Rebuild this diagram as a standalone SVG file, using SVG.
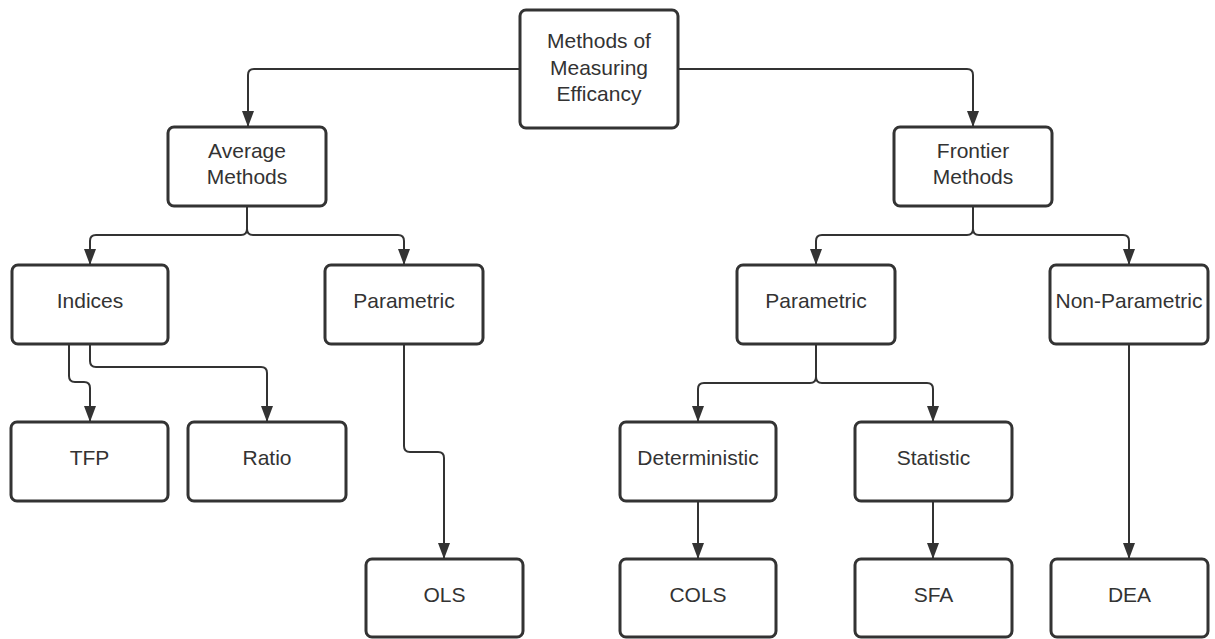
<svg xmlns="http://www.w3.org/2000/svg" width="1215" height="639" viewBox="0 0 1215 639">
<style>
.box{fill:#fff;stroke:#333;stroke-width:3}
.lbl{font-family:"Liberation Sans",Arial,sans-serif;font-size:21px;fill:#333;text-anchor:middle}
.edge{fill:none;stroke:#333;stroke-width:2}
</style>
<defs>
<marker id="a" markerUnits="userSpaceOnUse" markerWidth="16" markerHeight="12" refX="16" refY="6" orient="auto" viewBox="0 0 16 12">
<path d="M0,0 L16,6 L0,12 Z" fill="#333"/>
</marker>
</defs>
<rect width="1215" height="639" fill="#fff"/>
<g id="connectors">
<path class="edge" marker-end="url(#a)" d="M520,69 H254 Q248,69 248,75 V127"/>
<path class="edge" marker-end="url(#a)" d="M678,69 H967 Q973,69 973,75 V127"/>
<path class="edge" marker-end="url(#a)" d="M247,206 V229 Q247,235 241,235 H96 Q90,235 90,241 V265"/>
<path class="edge" marker-end="url(#a)" d="M247,206 V229 Q247,235 253,235 H398 Q404,235 404,241 V265"/>
<path class="edge" marker-end="url(#a)" d="M973,206 V229 Q973,235 967,235 H822 Q816,235 816,241 V265"/>
<path class="edge" marker-end="url(#a)" d="M973,206 V229 Q973,235 979,235 H1123 Q1129,235 1129,241 V265"/>
<path class="edge" marker-end="url(#a)" d="M69,344 V376 Q69,382 75,382 H84 Q90,382 90,388 V422"/>
<path class="edge" marker-end="url(#a)" d="M90,344 V361 Q90,367 96,367 H261 Q267,367 267,373 V422"/>
<path class="edge" marker-end="url(#a)" d="M404,344 V446 Q404,452 410,452 H438 Q444,452 444,458 V559"/>
<path class="edge" marker-end="url(#a)" d="M816,344 V377 Q816,383 810,383 H704 Q698,383 698,389 V422"/>
<path class="edge" marker-end="url(#a)" d="M816,344 V377 Q816,383 822,383 H927 Q933,383 933,389 V422"/>
<path class="edge" marker-end="url(#a)" d="M698,501 V559"/>
<path class="edge" marker-end="url(#a)" d="M933,501 V559"/>
<path class="edge" marker-end="url(#a)" d="M1129,344 V559"/>
</g>
<g id="n-root"><rect class="box" x="520" y="10" width="158" height="118" rx="6"/>
<text class="lbl" x="599" y="48">Methods of</text><text class="lbl" x="599" y="75">Measuring</text><text class="lbl" x="599" y="101">Efficancy</text></g>
<g id="n-average"><rect class="box" x="168" y="127" width="158" height="79" rx="6"/>
<text class="lbl" x="247" y="158">Average</text><text class="lbl" x="247" y="184">Methods</text></g>
<g id="n-frontier"><rect class="box" x="894" y="127" width="158" height="79" rx="6"/>
<text class="lbl" x="973" y="158">Frontier</text><text class="lbl" x="973" y="184">Methods</text></g>
<g id="n-indices"><rect class="box" x="12" y="265" width="156" height="79" rx="6"/>
<text class="lbl" x="90" y="308">Indices</text></g>
<g id="n-param-left"><rect class="box" x="325" y="265" width="158" height="79" rx="6"/>
<text class="lbl" x="404" y="308">Parametric</text></g>
<g id="n-param-right"><rect class="box" x="737" y="265" width="158" height="79" rx="6"/>
<text class="lbl" x="816" y="308">Parametric</text></g>
<g id="n-nonparam"><rect class="box" x="1050" y="265" width="158" height="79" rx="6"/>
<text class="lbl" x="1129" y="308">Non-Parametric</text></g>
<g id="n-tfp"><rect class="box" x="11" y="422" width="157" height="79" rx="6"/>
<text class="lbl" x="89.5" y="465">TFP</text></g>
<g id="n-ratio"><rect class="box" x="188" y="422" width="158" height="79" rx="6"/>
<text class="lbl" x="267" y="465">Ratio</text></g>
<g id="n-deterministic"><rect class="box" x="620" y="422" width="156" height="79" rx="6"/>
<text class="lbl" x="698" y="465">Deterministic</text></g>
<g id="n-statistic"><rect class="box" x="855" y="422" width="157" height="79" rx="6"/>
<text class="lbl" x="933.5" y="465">Statistic</text></g>
<g id="n-ols"><rect class="box" x="366" y="559" width="157" height="78" rx="6"/>
<text class="lbl" x="444.5" y="602">OLS</text></g>
<g id="n-cols"><rect class="box" x="620" y="559" width="156" height="78" rx="6"/>
<text class="lbl" x="698" y="602">COLS</text></g>
<g id="n-sfa"><rect class="box" x="855" y="559" width="157" height="78" rx="6"/>
<text class="lbl" x="933.5" y="602">SFA</text></g>
<g id="n-dea"><rect class="box" x="1051" y="559" width="157" height="78" rx="6"/>
<text class="lbl" x="1129.5" y="602">DEA</text></g>
</svg>
